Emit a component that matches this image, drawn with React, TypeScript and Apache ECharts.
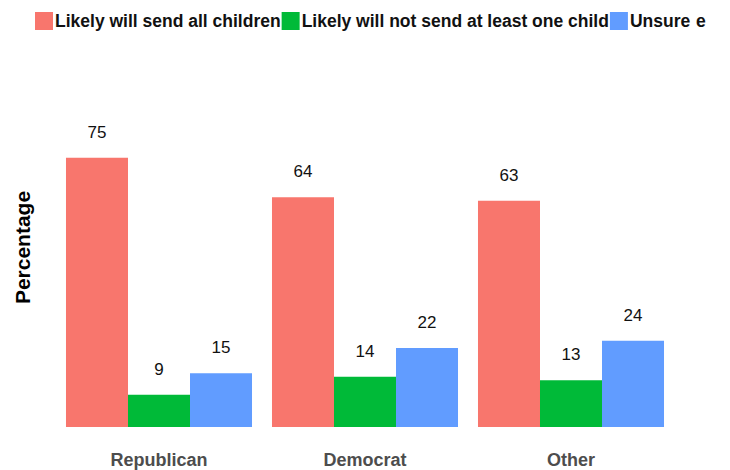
import React, { useEffect, useRef } from "react";
import * as echarts from "echarts";

const categories = ["Republican", "Democrat", "Other"];
const seriesNames = ["Likely will send all children", "Likely will not send at least one child", "Unsure"];
const sendAll = [75, 64, 63];
const notSendOne = [9, 14, 13];
const unsure = [15, 22, 24];
const colors = ["#F8766D", "#00BA38", "#619CFF"];

export default function App() {
  const ref = useRef<HTMLDivElement>(null);
  useEffect(() => {
    if (!ref.current) return;
    const chart = echarts.init(ref.current, null, { renderer: "svg" });
    const values = [sendAll, notSendOne, unsure];
    const font = "'Liberation Sans', Arial, sans-serif";
    chart.setOption({
      animation: false,
      textStyle: { fontFamily: font },
      legend: {
        top: 7,
        left: 30,
        itemWidth: 18,
        itemHeight: 18,
        itemGap: 1,
        icon: "rect",
        textStyle: { fontSize: 17.5, fontWeight: "bold", color: "#111", fontFamily: font, padding: [0, 0, 0, -3] },
        data: seriesNames,
      },
      graphic: [
        { type: "text", left: 696, top: 12, style: { text: "e", fontSize: 17.5, fontWeight: "bold", fill: "#111", fontFamily: font } },
      ],
      grid: { left: 56, right: 56, top: 68, bottom: 43, containLabel: false },
      xAxis: {
        type: "category",
        data: categories,
        axisLine: { show: false },
        axisTick: { show: false },
        axisLabel: { margin: 24, fontSize: 18, fontWeight: "bold", color: "#4d4d4d", fontFamily: font },
      },
      yAxis: {
        type: "value",
        min: 0,
        max: 100,
        name: "Percentage",
        nameLocation: "middle",
        nameGap: 23,
        nameTextStyle: { fontSize: 21, fontWeight: "bold", color: "#000", fontFamily: font },
        axisLine: { show: false },
        axisTick: { show: false },
        axisLabel: { show: false },
        splitLine: { show: false },
      },
      series: seriesNames.map((name, i) => ({
        name,
        type: "bar",
        data: values[i],
        barGap: "0%",
        barCategoryGap: "9.7%",
        itemStyle: { color: colors[i] },
        label: {
          show: true,
          position: "top",
          distance: 17,
          fontSize: 17,
          color: "#111",
          fontFamily: font,
        },
      })),
    });
    return () => chart.dispose();
  }, []);
  return <div ref={ref} style={{ width: 730, height: 470, position: "absolute", left: 0, top: 0 }} />;
}
